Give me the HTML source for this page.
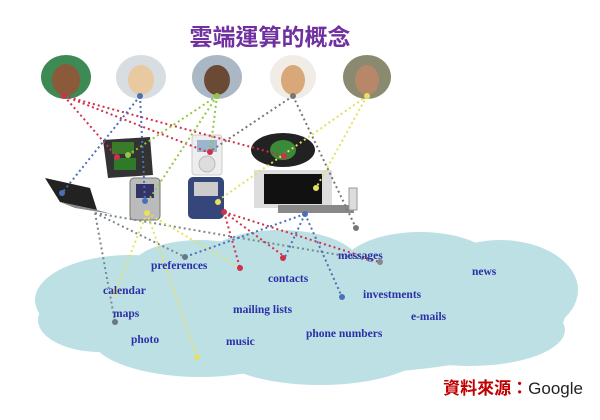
<!DOCTYPE html>
<html><head><meta charset="utf-8"><style>
body{margin:0;background:#fff;width:600px;height:420px;overflow:hidden}
svg{display:block}
.l{font-family:"Liberation Serif",serif;font-size:11.5px;font-weight:bold;fill:#2b2fa8}
</style></head><body>
<svg width="600" height="420" viewBox="0 0 600 420">
<g fill="#bde0e4">
<ellipse cx="310" cy="315" rx="255" ry="60"/>
<ellipse cx="130" cy="300" rx="95" ry="45"/>
<ellipse cx="100" cy="320" rx="62" ry="32"/>
<ellipse cx="200" cy="335" rx="110" ry="42"/>
<ellipse cx="320" cy="345" rx="110" ry="40"/>
<ellipse cx="280" cy="265" rx="80" ry="35"/>
<ellipse cx="420" cy="270" rx="80" ry="38"/>
<ellipse cx="500" cy="290" rx="78" ry="50"/>
<ellipse cx="470" cy="330" rx="95" ry="36"/>
<ellipse cx="200" cy="270" rx="70" ry="30"/>
</g>
<text x="270" y="45" text-anchor="middle" font-family="Liberation Sans,'Noto Sans CJK TC',sans-serif" font-size="23" font-weight="bold" fill="#7030a0">雲端運算的概念</text>
<g>
<ellipse cx="66" cy="77" rx="25" ry="22" fill="#3e8a55"/><ellipse cx="66" cy="80" rx="14" ry="16" fill="#8a5a3a"/>
<ellipse cx="141" cy="77" rx="25" ry="22" fill="#d8dde2"/><ellipse cx="141" cy="80" rx="13" ry="15" fill="#e8c9a0"/>
<ellipse cx="217" cy="77" rx="25" ry="22" fill="#a9b8c4"/><ellipse cx="217" cy="80" rx="13" ry="15" fill="#6b4a35"/>
<ellipse cx="293" cy="77" rx="23" ry="22" fill="#f1ede6"/><ellipse cx="293" cy="80" rx="12" ry="15" fill="#d9a878"/>
<ellipse cx="367" cy="77" rx="24" ry="22" fill="#8a8a70"/><ellipse cx="367" cy="80" rx="12" ry="15" fill="#b8876a"/>
</g>
<g>
<polygon points="103,140 150,137 153,175 108,178" fill="#333"/>
<rect x="112" y="142" width="22" height="12" fill="#3a7a2a"/><rect x="114" y="158" width="22" height="12" fill="#2f7a2a"/>
<rect x="192" y="135" width="30" height="40" rx="3" fill="#eee" stroke="#ccc"/><rect x="197" y="140" width="20" height="12" fill="#9bb4d0"/><circle cx="207" cy="164" r="8" fill="#ddd" stroke="#bbb"/>
<ellipse cx="283" cy="150" rx="32" ry="17" fill="#222"/><ellipse cx="283" cy="150" rx="13" ry="10" fill="#3a8a3a"/>
<polygon points="45,178 90,188 97,210 60,202" fill="#222"/><polygon points="60,202 97,210 112,214 75,208" fill="#888"/>
<rect x="130" y="178" width="30" height="42" rx="4" fill="#bbb" stroke="#777"/><rect x="136" y="184" width="18" height="14" fill="#336"/>
<rect x="188" y="177" width="36" height="42" rx="5" fill="#34467a"/><rect x="194" y="182" width="24" height="14" fill="#ccc"/>
<rect x="254" y="170" width="78" height="38" fill="#ddd"/><rect x="264" y="174" width="58" height="30" fill="#111"/>
<rect x="278" y="205" width="76" height="8" fill="#888"/><rect x="349" y="188" width="8" height="22" fill="#ddd" stroke="#999"/>
</g>
<g fill="none" stroke-width="2" stroke-dasharray="2 3">
<path d="M64 96 L117 157 M64 96 L210 153 M64 96 L284 156" stroke="#d0304a"/>
<path d="M140 96 L62 193 M140 96 L145 201" stroke="#4a70b8"/>
<path d="M217 96 L128 155 M217 96 L150 198 M217 96 L210 153" stroke="#90c840"/>
<path d="M293 96 L212 150 M293 96 L356 228" stroke="#777"/>
<path d="M367 96 L216 202 M367 96 L316 188" stroke="#e6e060"/>
<path d="M95 213 L115 322 M95 213 L380 262 M95 213 L185 257" stroke="#7a8890" />
<path d="M147 213 L115 292 M147 213 L197 357 M147 213 L240 268" stroke="#e8e060"/>
<path d="M224 212 L240 268 M224 212 L285 257 M224 212 L380 262" stroke="#d0304a"/>
<path d="M305 214 L185 257 M305 214 L285 257 M305 214 L342 297" stroke="#4a70b8"/>
</g>
<g>
<circle cx="64" cy="96" r="3" fill="#d0304a"/><circle cx="140" cy="96" r="3" fill="#4a70b8"/><circle cx="217" cy="96" r="3" fill="#90c840"/><circle cx="293" cy="96" r="3" fill="#777"/><circle cx="367" cy="96" r="3" fill="#e6e060"/>
<circle cx="117" cy="157" r="3" fill="#d0304a"/><circle cx="128" cy="155" r="3" fill="#90c840"/><circle cx="210" cy="152" r="3" fill="#d0304a"/><circle cx="284" cy="156" r="3" fill="#d0304a"/><circle cx="62" cy="193" r="3" fill="#4a70b8"/><circle cx="145" cy="201" r="3" fill="#4a70b8"/><circle cx="316" cy="188" r="3" fill="#e6e060"/><circle cx="218" cy="202" r="3" fill="#e6e060"/><circle cx="356" cy="228" r="3" fill="#777"/>
<circle cx="147" cy="213" r="3" fill="#e8e060"/><circle cx="224" cy="212" r="3" fill="#d0304a"/><circle cx="305" cy="214" r="3" fill="#4a70b8"/>
<circle cx="185" cy="257" r="3" fill="#678"/><circle cx="240" cy="268" r="3" fill="#d0304a"/><circle cx="283" cy="258" r="3" fill="#d0304a"/><circle cx="380" cy="262" r="3" fill="#888"/><circle cx="342" cy="297" r="3" fill="#4a70b8"/><circle cx="115" cy="292" r="3" fill="#e8e060"/><circle cx="115" cy="322" r="3" fill="#678"/><circle cx="197" cy="357" r="3" fill="#e8e060"/>
</g>
<text class="l" x="151" y="269">preferences</text>
<text class="l" x="268" y="282">contacts</text>
<text class="l" x="338" y="259">messages</text>
<text class="l" x="472" y="275">news</text>
<text class="l" x="103" y="294">calendar</text>
<text class="l" x="363" y="298">investments</text>
<text class="l" x="233" y="313">mailing lists</text>
<text class="l" x="113" y="317">maps</text>
<text class="l" x="411" y="320">e-mails</text>
<text class="l" x="306" y="337">phone numbers</text>
<text class="l" x="131" y="343">photo</text>
<text class="l" x="226" y="345">music</text>
<text x="583" y="394" text-anchor="end" font-family="Liberation Sans,'Noto Sans CJK TC',sans-serif" font-size="17"><tspan font-weight="bold" fill="#c00000">資料來源：</tspan><tspan fill="#222">Google</tspan></text>
</svg>
</body></html>
